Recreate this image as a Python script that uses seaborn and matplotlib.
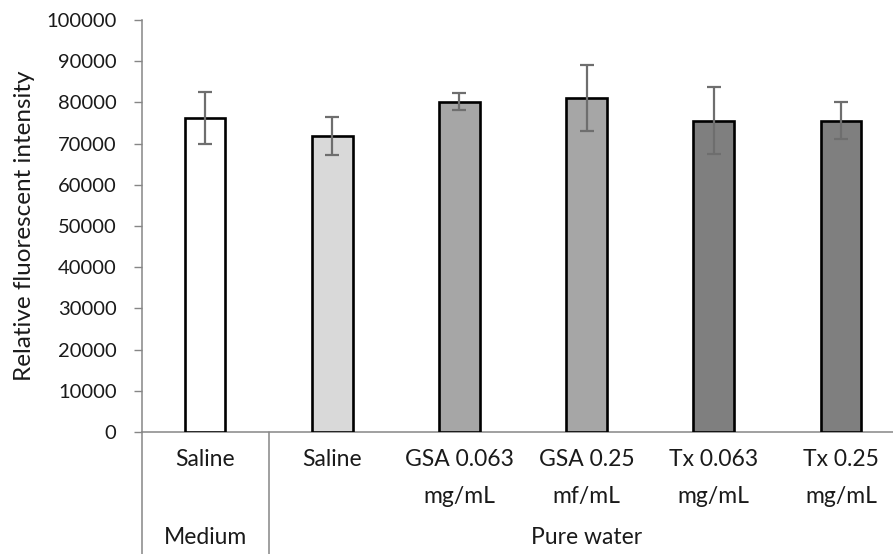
import matplotlib
matplotlib.use("Agg")
import matplotlib.pyplot as plt
import seaborn as sns
import pandas as pd

# ---- data ----
keys = ["Medium Saline", "Water Saline", "GSA 0.063", "GSA 0.25", "Tx 0.063", "Tx 0.25"]
tick_labels = ["Saline", "Saline", "GSA 0.063\nmg/mL", "GSA 0.25\nmf/mL", "Tx 0.063\nmg/mL", "Tx 0.25\nmg/mL"]
values = [76300, 71800, 80200, 81100, 75600, 75600]
errors = [6300, 4650, 2000, 8000, 8050, 4400]
bar_colors = ["#ffffff", "#d9d9d9", "#a6a6a6", "#a6a6a6", "#7f7f7f", "#7f7f7f"]
groups = ["Medium", "Pure water"]
group_spans = [(0, 0), (1, 5)]
y_ticks = list(range(0, 100001, 10000))

sns.set_style("white")
plt.rcParams["font.family"] = ["Lato", "DejaVu Sans"]

W, H = 893, 554
fig = plt.figure(figsize=(W / 100, H / 100), dpi=100)
ax_left, ax_right = 141.5, 904.5
ax_top, ax_bot = 20, 432
ax = fig.add_axes([ax_left / W, (H - ax_bot) / H, (ax_right - ax_left) / W, (ax_bot - ax_top) / H])

df = pd.DataFrame({"key": keys, "value": values})
sns.barplot(data=df, x="key", y="value", hue="key", order=keys, hue_order=keys,
            palette=dict(zip(keys, bar_colors)), legend=False, width=0.32,
            edgecolor="black", linewidth=1.9, errorbar=None, ax=ax, zorder=3)
ax.errorbar(range(len(keys)), values, yerr=errors, fmt="none", ecolor="#6e6e6e",
            elinewidth=1.6, capsize=5, capthick=1.6, zorder=4)

gray = "#868686"
txt = "#1a1a1a"
ax.set_xlim(-0.5, len(keys) - 0.5)
ax.set_ylim(0, 100000)
ax.set_yticks(y_ticks)
ax.set_yticklabels([str(t) for t in y_ticks], fontsize=14.5, color=txt)
ax.set_xticks(range(len(keys)))
ax.set_xticklabels(tick_labels, fontsize=16.5, color=txt, linespacing=1.95)
ax.tick_params(axis="x", length=0, pad=12)
ax.tick_params(axis="y", length=6, width=1, color=gray, pad=12, direction="out", left=True)
for s in ["top", "right"]:
    ax.spines[s].set_visible(False)
ax.spines["left"].set_color(gray)
ax.spines["bottom"].set_color(gray)
ax.spines["left"].set_linewidth(1.1)
ax.spines["bottom"].set_linewidth(1.1)
ax.set_xlabel("")
ax.set_ylabel("Relative fluorescent intensity", fontsize=17.5, color=txt)
ax.yaxis.set_label_coords(-0.139, 0.5)

# multi-level category axis lines and group labels
trans = ax.get_xaxis_transform()
ybottom = -(H - ax_bot) / (ax_bot - ax_top)
ygroup = -(538 - ax_bot) / (ax_bot - ax_top)
for gi, (a, b) in enumerate(group_spans):
    ax.plot([a - 0.5, a - 0.5], [0, ybottom], color=gray, lw=1.1, transform=trans, clip_on=False)
    ax.text((a + b) / 2, ygroup, groups[gi], transform=trans, ha="center", va="center",
            fontsize=16.5, color=txt)

fig.savefig("out.png", dpi=100)
